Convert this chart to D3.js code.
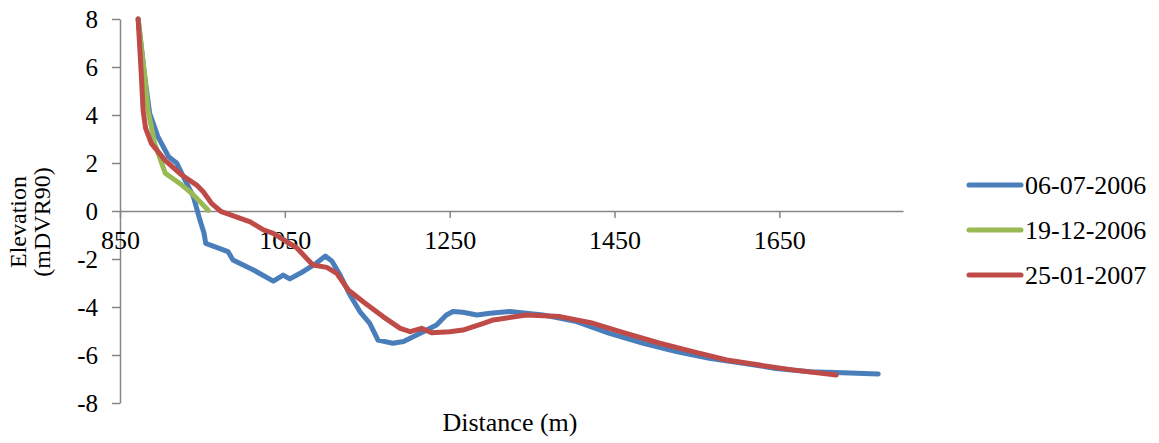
<!DOCTYPE html>
<html>
<head>
<meta charset="utf-8">
<script src="https://cdn.jsdelivr.net/npm/d3@7"></script>
<style>
  html, body { margin: 0; padding: 0; background: #fff; }
  svg, svg text { font-family: "Liberation Serif", "Times New Roman", Times, "DejaVu Serif", serif !important; }
</style>
</head>
<body>
<svg id="chart" width="1159" height="443"></svg>
<script>
// ---- Data ----
const seriesNames = ["06-07-2006", "19-12-2006", "25-01-2007"];
const seriesColors = ["#4A7EBB", "#98B954", "#BE4B48"];

const dist0607 = [872, 880, 886, 896, 909, 919, 929, 939, 947, 952, 954, 981, 987, 1012, 1036, 1048, 1056, 1072, 1088, 1099, 1107, 1117, 1129, 1141, 1153, 1159, 1163, 1181, 1194, 1218, 1234, 1246, 1254, 1266, 1283, 1299, 1323, 1363, 1404, 1444, 1485, 1525, 1565, 1606, 1646, 1687, 1727, 1770];
const elev0607 = [8, 5.6, 4.07, 3.1, 2.26, 1.99, 1.29, 0.6, -0.38, -0.93, -1.35, -1.69, -2.04, -2.46, -2.92, -2.67, -2.83, -2.53, -2.18, -1.88, -2.08, -2.67, -3.5, -4.19, -4.68, -5.1, -5.38, -5.51, -5.44, -5.03, -4.75, -4.33, -4.19, -4.22, -4.33, -4.26, -4.19, -4.33, -4.61, -5.1, -5.51, -5.86, -6.14, -6.35, -6.56, -6.7, -6.74, -6.79];

const dist1912 = [872, 880, 884, 892, 905, 925, 937, 947, 957];
const elev1912 = [8, 5.6, 4.2, 2.82, 1.57, 1.08, 0.74, 0.39, 0.03];

const dist2501 = [872, 876, 878, 881, 888, 905, 925, 943, 951, 961, 973, 985, 1008, 1024, 1036, 1052, 1064, 1084, 1101, 1113, 1127, 1145, 1169, 1190, 1202, 1216, 1228, 1250, 1266, 1291, 1303, 1343, 1371, 1384, 1424, 1464, 1505, 1545, 1586, 1626, 1666, 1719];
const elev2501 = [8, 5.6, 4.2, 3.45, 2.82, 2.1, 1.5, 1.08, 0.8, 0.32, -0.03, -0.17, -0.45, -0.79, -0.93, -1.28, -1.52, -2.25, -2.35, -2.6, -3.29, -3.78, -4.4, -4.89, -5.03, -4.89, -5.07, -5.03, -4.96, -4.68, -4.54, -4.33, -4.38, -4.4, -4.68, -5.1, -5.51, -5.86, -6.21, -6.42, -6.62, -6.83];

const xTicks = [850, 1050, 1250, 1450, 1650];
const yTicks = [-8, -6, -4, -2, 0, 2, 4, 6, 8];
const xDomain = [850, 1800];
const yDomain = [-8, 8];

const xTitle = "Distance (m)";
const yTitleLines = ["Elevation", "(mDVR90)"];

// ---- Layout ----
const FONT = '"Liberation Serif", "Times New Roman", Times, serif';
const svg = d3.select("#chart");
const plot = { left: 120, right: 903, top: 19, bottom: 403 };
const axisColor = "#868686";

const x = d3.scaleLinear().domain(xDomain).range([plot.left, plot.right]);
const y = d3.scaleLinear().domain(yDomain).range([plot.bottom, plot.top]);

// Y axis
const yAxis = svg.append("g")
  .attr("transform", `translate(${plot.left},0)`)
  .call(d3.axisLeft(y).tickValues(yTicks).tickSizeInner(8).tickSizeOuter(0).tickPadding(14)
    .tickFormat(d => String(d)));
yAxis.attr("font-family", null);
yAxis.select(".domain").attr("stroke", axisColor).attr("stroke-width", 1.5);
yAxis.selectAll(".tick line").attr("stroke", axisColor).attr("stroke-width", 1.5);
yAxis.selectAll(".tick text")
  .style("font-family", FONT)
  .attr("font-size", 25).attr("fill", "#000");

// X axis at y = 0
const xAxis = svg.append("g")
  .attr("transform", `translate(0,${y(0)})`)
  .call(d3.axisBottom(x).tickValues(xTicks).tickSizeInner(7).tickSizeOuter(0).tickPadding(13)
    .tickFormat(d => String(d)));
xAxis.attr("font-family", null);
xAxis.select(".domain").attr("stroke", axisColor).attr("stroke-width", 1.5);
xAxis.selectAll(".tick line").attr("stroke", axisColor).attr("stroke-width", 1.5);
xAxis.selectAll(".tick text")
  .style("font-family", FONT)
  .attr("font-size", 26).attr("fill", "#000");

// Lines
const series = [
  { name: seriesNames[0], color: seriesColors[0], xs: dist0607, ys: elev0607 },
  { name: seriesNames[1], color: seriesColors[1], xs: dist1912, ys: elev1912 },
  { name: seriesNames[2], color: seriesColors[2], xs: dist2501, ys: elev2501 }
];
const line = d3.line().x(d => x(d[0])).y(d => y(d[1]));
series.forEach(s => {
  svg.append("path")
    .datum(s.xs.map((v, i) => [v, s.ys[i]]))
    .attr("d", line)
    .attr("fill", "none")
    .attr("stroke", s.color)
    .attr("stroke-width", 5)
    .attr("stroke-linejoin", "round")
    .attr("stroke-linecap", "round");
});

// Axis titles
svg.append("text")
  .attr("x", 510).attr("y", 431)
  .attr("text-anchor", "middle")
  .style("font-family", FONT)
  .attr("font-size", 26).attr("fill", "#000")
  .text(xTitle);

const yt = svg.append("text")
  .attr("transform", "translate(0,222) rotate(-90)")
  .attr("text-anchor", "middle")
  .style("font-family", FONT)
  .attr("font-size", 24).attr("fill", "#000");
yTitleLines.forEach((t, i) => {
  yt.append("tspan").attr("x", 0).attr("y", 26 + i * 24).text(t);
});

// Legend
const legend = svg.append("g");
series.forEach((s, i) => {
  const ly = 185 + i * 45;
  legend.append("line")
    .attr("x1", 969).attr("x2", 1021).attr("y1", ly).attr("y2", ly)
    .attr("stroke", s.color).attr("stroke-width", 5).attr("stroke-linecap", "round");
  legend.append("text")
    .attr("x", 1025).attr("y", ly + 9)
    .style("font-family", FONT)
    .attr("font-size", 26).attr("fill", "#000")
    .text(s.name);
});
</script>
</body>
</html>
